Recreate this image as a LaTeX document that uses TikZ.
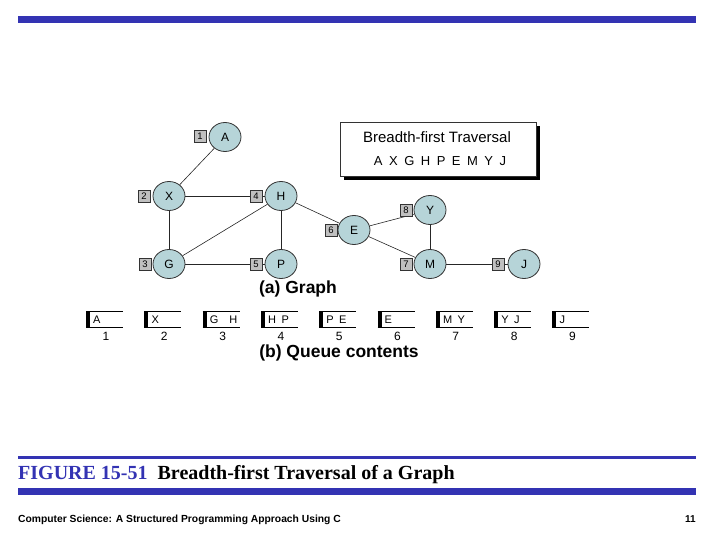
\documentclass[tikz,border=0pt]{standalone}
\usepackage{fontspec}
\setmainfont{Liberation Serif}
\setsansfont{Liberation Sans}
\usetikzlibrary{shapes.geometric,backgrounds}
\definecolor{barblue}{RGB}{51,51,179}
\definecolor{nodefill}{RGB}{182,212,216}
\definecolor{boxfill}{RGB}{192,192,192}
\begin{document}
\begin{tikzpicture}[x=1pt,y=-1pt,
  vert/.style={ellipse,draw=black!80,line width=0.8pt,fill=nodefill,minimum width=32pt,minimum height=29pt,inner sep=0pt,font=\sffamily\fontsize{12}{12}\selectfont},
  numbox/.style={rectangle,draw=black!80,line width=0.7pt,fill=boxfill,minimum width=12pt,minimum height=12pt,inner sep=0pt,font=\sffamily\fontsize{9.5}{9.5}\selectfont},
  edge/.style={draw=black!85,line width=0.6pt},
  qtext/.style={anchor=west,font=\sffamily\fontsize{11}{11}\selectfont,inner sep=0pt},
  qnum/.style={font=\sffamily\fontsize{12}{12}\selectfont,inner sep=0pt}]
\useasboundingbox (0,0) rectangle (720,540);
% top bar
\fill[barblue] (18,16) rectangle (696,23);
% graph vertices
\node[vert] (A) at (225,137) {A};
\node[vert] (X) at (169,196) {X};
\node[vert] (H) at (281,196) {H};
\node[vert] (G) at (169,264) {G};
\node[vert] (P) at (281,264) {P};
\node[vert] (E) at (354,230) {E};
\node[vert] (Y) at (430,210) {Y};
\node[vert] (M) at (430,264) {M};
\node[vert] (J) at (524,264) {J};
% number boxes
\node[numbox] (n1) at (200,136) {1};
\node[numbox] (n2) at (144,196) {2};
\node[numbox] (n3) at (145,264) {3};
\node[numbox] (n4) at (256,196) {4};
\node[numbox] (n5) at (256,264) {5};
\node[numbox] (n6) at (331,230) {6};
\node[numbox] (n7) at (406,264) {7};
\node[numbox] (n8) at (406,210) {8};
\node[numbox] (n9) at (498,264) {9};
\begin{scope}[on background layer]
\draw[edge] (A) -- (X);
\draw[edge] (X) -- (H);
\draw[edge] (X) -- (G);
\draw[edge] (H) -- (G);
\draw[edge] (H) -- (P);
\draw[edge] (G) -- (P);
\draw[edge] (H) -- (E);
\draw[edge] (E) -- (Y);
\draw[edge] (E) -- (M);
\draw[edge] (Y) -- (M);
\draw[edge] (M) -- (J);
\end{scope}
% traversal box
\fill[black] (344,126) rectangle (540,180);
\node[draw=black!80,line width=0.7pt,fill=white,minimum width=196pt,minimum height=54pt,inner sep=0pt] (trav) at (438,149) {};
\node[font=\sffamily\fontsize{15}{15}\selectfont,inner sep=0pt] (travt) at (437,137) {Breadth-first Traversal};
\node[font=\sffamily\fontsize{13}{13}\selectfont,inner sep=0pt] (travs) at (440,161) {A\enspace X\enspace G\enspace H\enspace P\enspace E\enspace M\enspace Y\enspace J};
\node[font=\sffamily\bfseries\fontsize{17.5}{17.5}\selectfont,inner sep=0pt] (capa) at (298,289) {(a) Graph};
% queue
\foreach \i/\c in {1/A,2/X,3/G\quad H,4/H\enspace P,5/P\enspace E,6/E,7/M\enspace Y,8/Y\enspace J,9/J}{
  \pgfmathsetmacro{\xc}{106+58.3*(\i-1)}
  \fill[black] (\xc-20,311) rectangle (\xc-16,328);
  \draw[black,line width=1.2pt] (\xc-20,311.6) -- (\xc+17,311.6);
  \draw[black,line width=1.2pt] (\xc-20,327.4) -- (\xc+17,327.4);
  \node[qtext] (q\i) at (\xc-13,319.5) {\c};
  \node[qnum] (qn\i) at (\xc,336) {\i};
}
\node[font=\sffamily\bfseries\fontsize{17.5}{17.5}\selectfont,inner sep=0pt] (capb) at (339,353) {(b) Queue contents};
% caption
\fill[barblue] (18,456) rectangle (696,459);
\node[anchor=base west,inner sep=0pt,font=\bfseries\fontsize{20}{20}\selectfont] (fig) at (18,479) {\textcolor{barblue}{FIGURE 15-51}\enspace Breadth-first Traversal of a Graph};
\fill[barblue] (18,488) rectangle (696,495);
\node[anchor=base west,inner sep=0pt,font=\sffamily\bfseries\fontsize{10.3}{10.3}\selectfont] (foot) at (18,522) {Computer Science: A Structured Programming Approach Using C};
\node[anchor=base east,inner sep=0pt,font=\sffamily\bfseries\fontsize{10}{10}\selectfont] (page) at (696,522) {11};
\end{tikzpicture}
\end{document}
